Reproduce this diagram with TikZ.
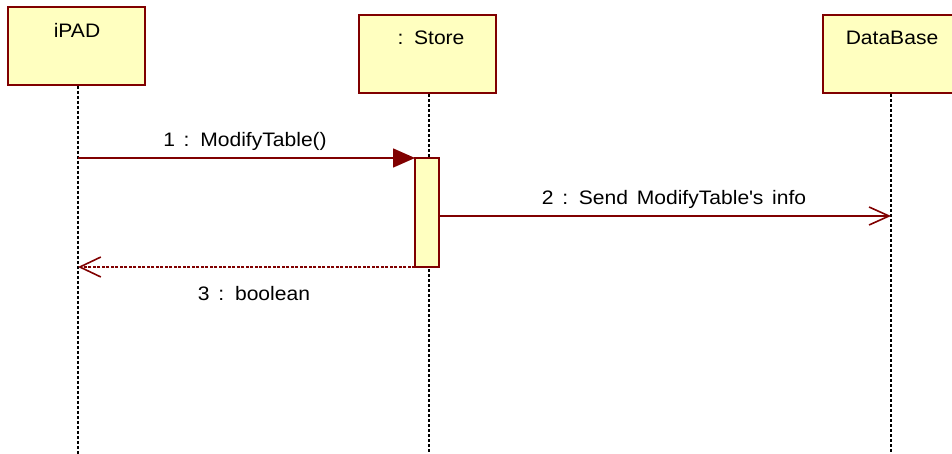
\documentclass[tikz,border=0pt]{standalone}
\usepackage{fontspec}
\setmainfont{Liberation Sans}[FakeStretch=1.08,WordSpace=1.5]
\usetikzlibrary{arrows.meta}
\definecolor{boxfill}{HTML}{FFFFC0}
\definecolor{boxline}{HTML}{800000}
\begin{document}
\begin{tikzpicture}[x=1pt,y=-1pt,
  obj/.style={draw=boxline,fill=boxfill,line width=2pt,minimum width=137pt,minimum height=78pt,anchor=north west,inner sep=0pt},
  objtext/.style={font=\fontsize{19.5}{22}\selectfont,inner sep=0pt,anchor=center},
  lifeline/.style={black,line width=1.5pt,dash pattern=on 3pt off 2pt},
  msg/.style={boxline,line width=1.6pt},
  lbl/.style={font=\fontsize{19.5}{22}\selectfont,inner sep=0pt,anchor=center}]
\useasboundingbox (0,0) rectangle (952,454);
\begin{scope}
\clip (0,0) rectangle (952,454);
% objects
\node[obj] (ipad) at (7,6) {};
\node[obj] (store) at (358,14) {};
\node[obj] (db) at (822,14) {};
\node[objtext] (ipadt) at (77,30) {iPAD};
\node[objtext] (storet) at (431,38) {: Store};
\node[objtext] (dbt) at (892,38) {DataBase};
% lifelines
\coordinate (ipadend) at (78,454);
\coordinate (storeend) at (429,454);
\coordinate (dbend) at (891,454);
\draw[lifeline] (ipad.south -| ipadend) -- (ipadend);
\draw[lifeline] (store.south -| storeend) -- (storeend);
\draw[lifeline] (db.south -| dbend) -- (dbend);
% activation
\node[draw=boxline,fill=boxfill,line width=2pt,minimum width=24pt,minimum height=109pt,anchor=north west,inner sep=0pt,outer sep=0pt] (act) at (415,158) {};
% message points
\coordinate (m1s) at (78,158);
\coordinate (m2e) at (891,216);
\coordinate (m3e) at (78,267);
% messages
\draw[msg,-{Triangle[length=22pt,width=19pt]}] (m1s) -- (m1s -| act.west);
\draw[msg,-{Straight Barb[length=20pt,width=18pt,line width=1.6pt]}] (act.east |- m2e) -- (m2e);
\draw[msg,dash pattern=on 3pt off 1.5pt,-{Straight Barb[length=21pt,width=20pt,line width=1.6pt]}] (m3e -| act.west) -- (m3e);
% labels
\node[lbl] (l1) at (245,141) {1 : ModifyTable()};
\node[lbl] (l2) at (674,199) {2 : Send ModifyTable\textquotesingle s info};
\node[lbl] (l3) at (254,294) {3 : boolean};
\end{scope}
\end{tikzpicture}
\end{document}
